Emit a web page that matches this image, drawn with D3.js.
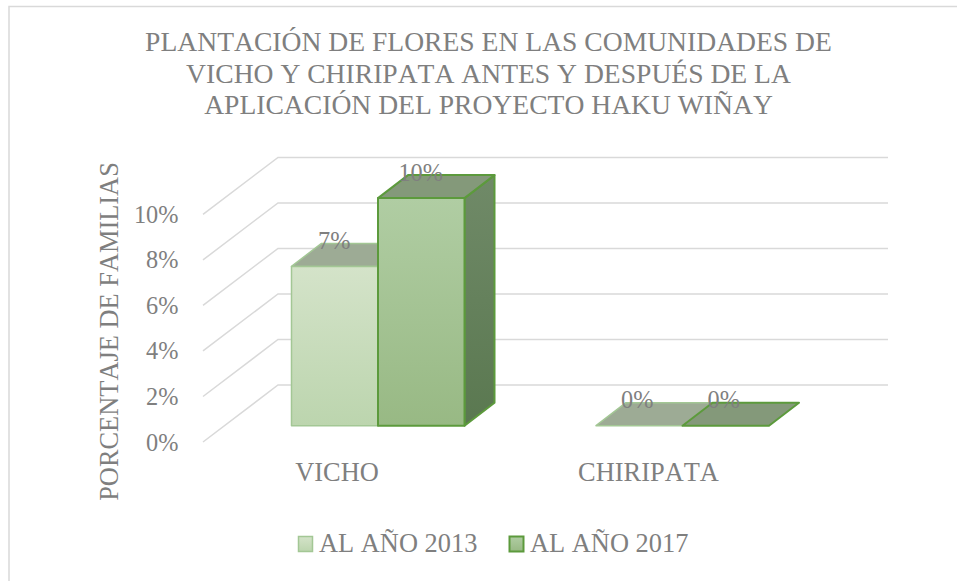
<!DOCTYPE html>
<html><head><meta charset="utf-8">
<script src="https://cdn.jsdelivr.net/npm/d3@7/dist/d3.min.js"></script>
<style>html,body{margin:0;padding:0;background:#fff}svg{display:block}text{font-family:"Liberation Serif",serif;fill:#7f7f7f;font-kerning:none}</style>
</head><body><svg id="c" width="957" height="581"></svg>
<script>
const titleLines=["PLANTACIÓN DE FLORES EN LAS COMUNIDADES DE","VICHO Y CHIRIPATA ANTES Y DESPUÉS DE LA","APLICACIÓN DEL PROYECTO HAKU WIÑAY"];
const categories=["VICHO","CHIRIPATA"];
const seriesNames=["AL AÑO 2013","AL AÑO 2017"];
const values2013=[7,0];
const values2017=[10,0];
const yTicks=[0,2,4,6,8,10];
const yAxisTitle="PORCENTAJE DE FAMILIAS";

const svg=d3.select("#c");
const defs=svg.append("defs");
function grad(id,stops,x2,y2){const g=defs.append("linearGradient").attr("id",id).attr("x1",0).attr("y1",0).attr("x2",x2).attr("y2",y2);
 stops.forEach((s,i)=>g.append("stop").attr("offset",i/(stops.length-1)).attr("stop-color",s));}
grad("f0",["#d4e3c9","#bcd5ae"],0,1);
grad("f1",["#b0cda3","#98b984"],0,1);
grad("s1",["#708a68","#5a7850"],0,1);

svg.append("rect").attr("x",9).attr("y",6.5).attr("width",960).attr("height",590).attr("fill","#fff").attr("stroke","#d9d9d9").attr("stroke-width",1.5);

const depth={x:30,y:-23}, wall={x:75,y:-57};
const y=d3.scaleLinear().domain([0,10]).range([0,-227.6]);
const frontBase=442;
const barW=86.5;
const catStart={VICHO:291.5,CHIRIPATA:596};
const xRight=888;

yTicks.forEach(t=>{
 const yy=frontBase+y(t);
 svg.append("path").attr("d",`M203,${yy}L${203+wall.x},${yy+wall.y}L${xRight},${yy+wall.y}`).attr("fill","none").attr("stroke","#d9d9d9").attr("stroke-width",1.5);
 svg.append("text").attr("x",178.5).attr("y",yy+8.5).attr("text-anchor","end").attr("font-size",24.3).text(t+"%");
});

const base=425.7;
const styles=[{front:"url(#f0)",top:"#9dab95",side:"#9dab95",stroke:"#a3c795",sw:1.5},{front:"url(#f1)",top:"#84997a",side:"url(#s1)",stroke:"#5c9a3c",sw:2}];
const seriesVals=[values2013,values2017];
seriesVals.forEach((vals,s)=>{
 vals.forEach((v,c)=>{
  const st=styles[s];
  const x0=catStart[categories[c]]+s*barW, x1=x0+barW, h=y(v), t=base+h;
  const g=svg.append("g").attr("stroke",st.stroke).attr("stroke-width",st.sw).attr("stroke-linejoin","round");
  if(v>0){
   g.append("path").attr("d",`M${x1},${t}L${x1+depth.x},${t+depth.y}L${x1+depth.x},${base+depth.y}L${x1},${base}Z`).attr("fill",st.side);
  }
  g.append("path").attr("d",`M${x0},${t}L${x0+depth.x},${t+depth.y}L${x1+depth.x},${t+depth.y}L${x1},${t}Z`).attr("fill",st.top);
  if(v>0) g.append("rect").attr("x",x0).attr("y",t).attr("width",barW).attr("height",-h).attr("fill",st.front);
 });
});
seriesVals.forEach((vals,s)=>{
 vals.forEach((v,c)=>{
  const x0=catStart[categories[c]]+s*barW;
  svg.append("text").attr("x",x0+barW/2-(v>0?0.5:2)).attr("y",base+y(v)-17.5).attr("text-anchor","middle").attr("font-size",24.3).text(v+"%");
 });
});
const catX={VICHO:337,CHIRIPATA:648.5};
categories.forEach(c=>svg.append("text").attr("x",catX[c]).attr("y",480.5).attr("text-anchor","middle").attr("font-size",26.4).text(c));
titleLines.forEach((l,i)=>svg.append("text").attr("x",488.5).attr("y",51+i*31.5).attr("text-anchor","middle").attr("font-size",27.6).text(l));
svg.append("text").attr("transform","translate(117.5,331.5) rotate(-90)").attr("text-anchor","middle").attr("font-size",26.4).text(yAxisTitle);
const lx=[298.5,509.5];
seriesNames.forEach((n,i)=>{
 svg.append("rect").attr("x",lx[i]).attr("y",536.5).attr("width",14).attr("height",15).attr("fill",i?"url(#f1)":"url(#f0)").attr("stroke",styles[i].stroke).attr("stroke-width",styles[i].sw);
 svg.append("text").attr("x",lx[i]+20.5).attr("y",552).attr("font-size",26.4).text(n);
});
</script></body></html>
